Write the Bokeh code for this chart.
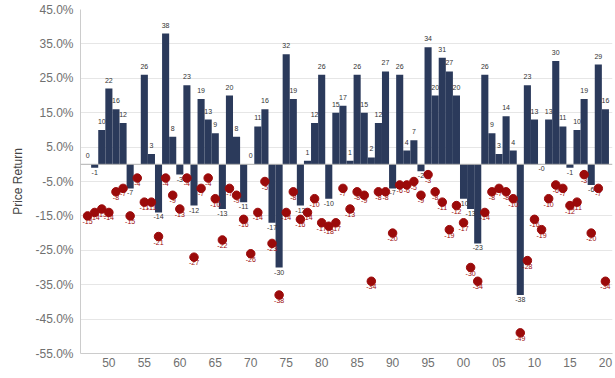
import math
from bokeh.plotting import figure
from bokeh.models import ColumnDataSource, FixedTicker, PrintfTickFormatter, Span, Range1d
from bokeh.core.properties import value
from bokeh.embed import file_html
from bokeh.resources import INLINE

years = list(range(1947, 2021))
price_return = [0, -1, 10, 22, 16, 12, -7, math.nan, 26, 3,
                -14, 38, 8, -3, 23, -12, 19, 13, 9, -13,
                20, 8, -11, 0, 11, 16, -17, -30, 32, 19,
                -12, 1, 12, 26, -10, 15, 17, 1, 26, 15,
                2, 12, 27, -7, 26, 4, 7, -2, 34, 20,
                31, 27, 20, -10, -13, -23, 26, 9, 3, 14,
                4, -38, 23, 13, -0.0, 13, 30, 11, -1, 10,
                19, -6, 29, 16]
intra_year_decline = [-15, -14, -13, -14, -8, -7, -15, -4, -11, -11,
                      -21, -4, -9, -13, -4, -27, -7, -4, -10, -22,
                      -7, -9, -16, -26, -14, -5, -23, -38, -14, -8,
                      -16, -14, -10, -17, -18, -17, -7, -13, -8, -9,
                      -34, -8, -8, -20, -6, -6, -5, -9, -3, -8,
                      -11, -19, -12, -17, -30, -34, -14, -8, -7, -8,
                      -10, -49, -28, -16, -19, -10, -6, -7, -12, -11,
                      -3, -20, -7, -34]
y_ticks = [-55, -45, -35, -25, -15, -5, 5, 15, 25, 35, 45]
x_ticks = [1950, 1955, 1960, 1965, 1970, 1975, 1980, 1985, 1990, 1995, 2000, 2005, 2010, 2015, 2020]
x_tick_labels = ["50", "55", "60", "65", "70", "75", "80", "85", "90", "95", "00", "05", "10", "15", "20"]

FONT = "Liberation Sans"

p = figure(width=615, height=378, output_backend="svg", toolbar_location=None,
           x_range=Range1d(1946, 2021), y_range=Range1d(-55, 45),
           min_border_left=80, min_border_right=3, min_border_top=9, min_border_bottom=25)
p.outline_line_color = None
p.xgrid.grid_line_color = None
p.ygrid.grid_line_color = "#e6e6e6"
p.ygrid.ticker = FixedTicker(ticks=y_ticks)

bar_src = ColumnDataSource(dict(x=years, top=price_return))
p.vbar(x="x", top="top", bottom=0, width=1.0, source=bar_src,
       fill_color="#2b3a5b", line_color=None)

p.add_layout(Span(location=0, dimension="width", line_color="#b0b0b0", line_width=1))

def is_pos(v):
    return v > 0 or (v == 0 and math.copysign(1, v) > 0)

pos = [i for i, v in enumerate(price_return) if not math.isnan(v) and is_pos(v)]
neg = [i for i, v in enumerate(price_return) if not math.isnan(v) and not is_pos(v)]
src_pos = ColumnDataSource(dict(x=[years[i] for i in pos], y=[price_return[i] for i in pos],
                                t=[f"{price_return[i]:.0f}" for i in pos]))
src_neg = ColumnDataSource(dict(x=[years[i] for i in neg], y=[price_return[i] for i in neg],
                                t=[f"{price_return[i]:.0f}" for i in neg]))
p.text(x="x", y="y", text="t", source=src_pos, text_align="center", text_baseline="bottom",
       y_offset=-6, text_font=value(FONT), text_font_size="7px", text_color="#333333")
p.text(x="x", y="y", text="t", source=src_neg, text_align="center", text_baseline="top",
       y_offset=2, text_font=value(FONT), text_font_size="7px", text_color="#333333")

dot_src = ColumnDataSource(dict(x=years, y=intra_year_decline, t=[f"{v:.0f}" for v in intra_year_decline]))
p.scatter(x="x", y="y", source=dot_src, size=8.5, fill_color="#9b0a0a", line_color="#9b0a0a")
p.text(x="x", y="y", text="t", source=dot_src, text_align="center", text_baseline="top",
       y_offset=3, text_font=value(FONT), text_font_size="7px", text_color="#9b0a0a")

p.yaxis.ticker = FixedTicker(ticks=y_ticks)
p.yaxis.formatter = PrintfTickFormatter(format="%.1f%%")
p.yaxis.axis_label = "Price Return"
p.yaxis.axis_label_text_font = FONT
p.yaxis.axis_label_text_font_style = "normal"
p.yaxis.axis_label_text_font_size = "12px"
p.yaxis.axis_label_text_color = "#444444"
p.yaxis.axis_label_standoff = 7
p.yaxis.major_label_text_font = FONT
p.yaxis.major_label_text_font_size = "12px"
p.yaxis.major_label_text_color = "#707070"
p.yaxis.axis_line_color = "#cccccc"
p.yaxis.major_tick_line_color = None
p.yaxis.minor_tick_line_color = None
p.yaxis.major_tick_out = 0
p.yaxis.major_tick_in = 0
p.yaxis.minor_tick_out = 0
p.yaxis.major_label_standoff = 7

p.xaxis.ticker = FixedTicker(ticks=x_ticks)
p.xaxis.major_label_overrides = {t: l for t, l in zip(x_ticks, x_tick_labels)}
p.xaxis.major_label_text_font = FONT
p.xaxis.major_label_text_font_size = "12px"
p.xaxis.major_label_text_color = "#707070"
p.xaxis.axis_line_color = "#cccccc"
p.xaxis.major_tick_line_color = None
p.xaxis.minor_tick_line_color = None
p.xaxis.major_tick_out = 0
p.xaxis.major_tick_in = 0
p.xaxis.minor_tick_out = 0
p.xaxis.major_label_standoff = 4

open("out.html", "w").write(file_html(p, INLINE))
